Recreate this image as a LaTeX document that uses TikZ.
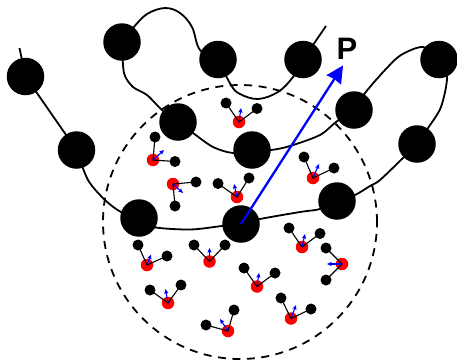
\documentclass[tikz,border=0pt]{standalone}
\usepackage{fontspec}
\setmainfont{Liberation Sans}
\usetikzlibrary{arrows.meta}
\tikzset{
  bead/.style={circle,fill=black,draw=none,inner sep=0pt,minimum size=37.5pt},
  redatom/.style={circle,fill=red,draw=none,inner sep=0pt,minimum size=12.5pt},
  blackatom/.style={circle,fill=black,draw=none,inner sep=0pt,minimum size=11pt},
  chain/.style={line width=1.8pt,line join=round},
  bond/.style={line width=1.1pt,black},
  smallforce/.style={line width=1.1pt,blue,-{Stealth[length=4.5pt,width=4pt,inset=0.5pt]}},
  bigforce/.style={line width=2.3pt,blue,-{Stealth[length=17pt,width=17pt,inset=1pt]}},
  cutoff/.style={circle,draw=black,line width=1.8pt,dash pattern=on 8pt off 6.5pt,inner sep=0pt,minimum size=274pt}
}
\newcommand{\molecule}[5]{%
  \node[redatom] (r#1) at (#2) {};
  \node[blackatom] (a#1) at (#3) {};
  \node[blackatom] (b#1) at (#4) {};
  \coordinate (t#1) at (#5);
  \draw[bond] (a#1.center) -- (r#1.center) -- (b#1.center);
  \draw[smallforce] (r#1.center) -- (t#1);
}
\begin{document}
\begin{tikzpicture}[x=1pt,y=-1pt]
\useasboundingbox (0,0) rectangle (457,360);
\node[cutoff] (cut) at (240,222) {};
% beads
\node[bead] (n1) at (25.5,76.5) {};
\node[bead] (n2) at (76.5,150) {};
\node[bead] (n3) at (139,218) {};
\node[bead] (n4) at (241,224) {};
\node[bead] (n5) at (337,201) {};
\node[bead] (n6) at (417,144) {};
\node[bead] (n7) at (439,59.5) {};
\node[bead] (n8) at (354,110) {};
\node[bead] (n9) at (252,150) {};
\node[bead] (n10) at (178,122) {};
\node[bead] (n11) at (122,42) {};
\node[bead] (n12) at (218,59.5) {};
\node[bead] (n13) at (303,59.5) {};
\coordinate (e1) at (19.5,48);
\coordinate (e2) at (326,26);
% chain
\draw[chain] (e1) -- (n1.center) -- (n2.center);
\draw[chain] plot[smooth,tension=0.5] coordinates {(n2.center) (88,180) (105,200) (121,212) (n3.center)};
\draw[chain] plot[smooth,tension=0.5] coordinates {(n3.center) (153,227) (190,229.5) (222,226) (n4.center)};
\draw[chain] plot[smooth,tension=0.5] coordinates {(n4.center) (260,219) (300,212) (320,209) (n5.center)};
\draw[chain] plot[smooth,tension=0.5] coordinates {(n5.center) (355,195) (370,186) (380,180) (403,158) (n6.center)};
\draw[chain] plot[smooth,tension=0.5] coordinates {(n6.center) (428,128) (441,107) (447,77) (n7.center)};
\draw[chain] plot[smooth,tension=0.5] coordinates {(n7.center) (423,47) (401,55) (385,70) (365,93) (n8.center)};
\draw[chain] plot[smooth,tension=0.5] coordinates {(n8.center) (336,122) (320,135) (290,146) (271,150) (n9.center)};
\draw[chain] plot[smooth,tension=0.5] coordinates {(n9.center) (233,153) (213,147) (193,133) (n10.center)};
\draw[chain] plot[smooth,tension=0.5] coordinates {(n10.center) (162,110) (147,95) (133,87) (124,73) (n11.center)};
\draw[chain] plot[smooth,tension=0.6] coordinates {(n11.center) (133,28) (147,14) (165,8) (180,13) (192,27) (200,50) (n12.center)};
\draw[chain] plot[smooth,tension=0.6] coordinates {(n12.center) (231,85) (240,94) (258,99) (278,92) (293,77) (n13.center)};
\draw[chain] (n13.center) -- (e2);
% small molecules
\molecule{1}{239,122}{226,103}{257,108.5}{241,108}
\molecule{2}{153,160}{155,137}{175,161.5}{164,150}
\molecule{3}{173,184}{196,182}{175,206}{183,193}
\molecule{4}{237,197}{218,183.5}{249,178}{234,184}
\molecule{5}{313,178}{304,157}{334,168}{319,164}
\molecule{6}{147,265}{138,245}{167,256}{151,254.5}
\molecule{7}{209.5,261.5}{194,245}{225,245}{209.5,248}
\molecule{8}{168,303}{150,290}{181,285}{165.5,289}
\molecule{9}{228,331}{206,325}{234,310}{220,319}
\molecule{10}{302,247}{289,228}{320,233.5}{305,234}
\molecule{11}{342,264}{326,248}{326,280}{327,264}
\molecule{12}{257,286.5}{244,268}{275,273}{259,273}
\molecule{13}{291,318.5}{281,298}{311,309}{296,305}
% big arrow
\coordinate (ptip) at (343,65.5);
\draw[bigforce] (n4.center) -- (ptip);
\node[inner sep=0pt,font=\fontsize{31}{31}\selectfont\bfseries] (plabel) at (347,49) {P};
\end{tikzpicture}
\end{document}
